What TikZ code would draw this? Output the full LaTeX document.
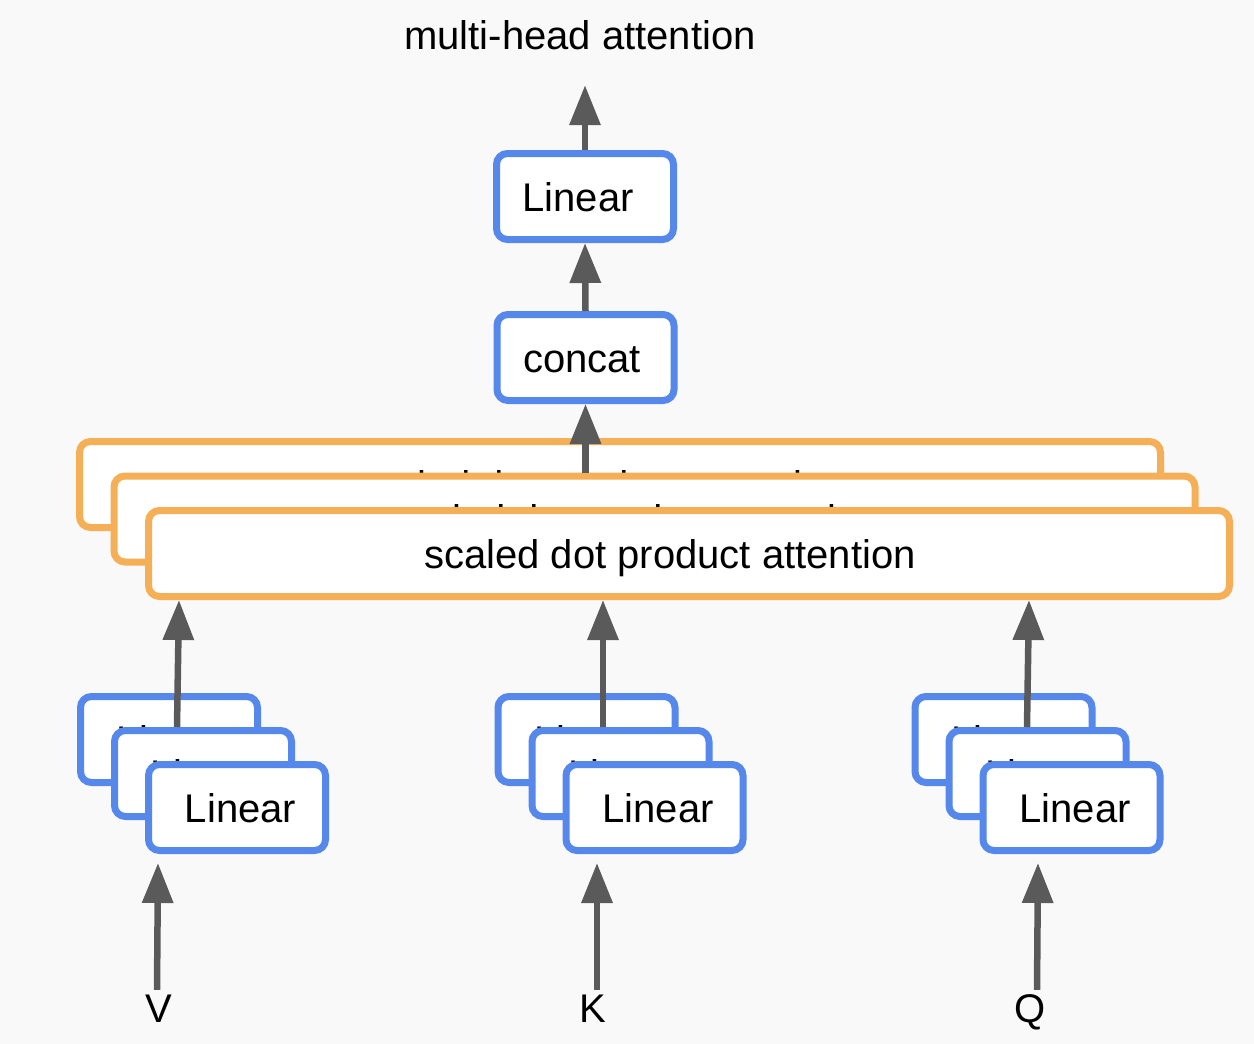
\documentclass[tikz,border=0pt]{standalone}
\usepackage{fontspec}
\setmainfont{Liberation Sans}
\usetikzlibrary{arrows.meta}
\definecolor{bgc}{HTML}{F9F9F9}
\definecolor{blu}{HTML}{5687EA}
\definecolor{org}{HTML}{F4AF57}
\definecolor{arrc}{HTML}{5A5A5A}
\begin{document}
\begin{tikzpicture}[x=1pt,y=-1pt,
  box/.style={draw, rounded corners=11pt, fill=white, line width=7pt,
    minimum height=86pt, inner sep=0pt, text height=29pt, text depth=0pt,
    font=\fontsize{40}{48}\selectfont},
  bluebox/.style={box, draw=blu, minimum width=177pt},
  orangebox/.style={box, draw=org, minimum width=1081pt},
  lbl/.style={inner sep=0pt, text height=29pt, text depth=0pt,
    font=\fontsize{40}{48}\selectfont},
  arr/.style={draw=arrc, line width=6.5pt, -{Triangle[length=40pt,width=30pt]}}
]
\fill[bgc] (0,0) rectangle (1254,1044);
\useasboundingbox (0,0) rectangle (1254,1044);

% labels
\node[lbl] (title) at (580,35) {multi-head attention};
\node[lbl] (V) at (159,1007.5) {V};
\node[lbl] (K) at (593,1007.5) {K};
\node[lbl] (Q) at (1030,1007.5) {Q};

% top boxes
\node[bluebox] (lin) at (585,196.5) {\hspace*{-14pt}Linear};
\node[bluebox] (concat) at (585.5,357.5) {\hspace*{-7pt}concat};

% attention stack
\node[orangebox] (O1) at (620,484.5) {\hspace*{-38pt}scaled dot product attention};
\node[orangebox] (O2) at (654.5,519) {\hspace*{-38pt}scaled dot product attention};
\node[orangebox] (O3) at (689,553.5) {\hspace*{-38pt}scaled dot product attention};

% linear stacks
\node[bluebox] (V1) at (169,739.5) {\hspace*{7pt}Linear};
\node[bluebox] (V2) at (203,773.5) {\hspace*{7pt}Linear};
\node[bluebox] (V3) at (237,807.5) {\hspace*{7pt}Linear};
\node[bluebox] (K1) at (586.5,739.5) {\hspace*{7pt}Linear};
\node[bluebox] (K2) at (620.5,773.5) {\hspace*{7pt}Linear};
\node[bluebox] (K3) at (654.5,807.5) {\hspace*{7pt}Linear};
\node[bluebox] (Q1) at (1003.5,739.5) {\hspace*{7pt}Linear};
\node[bluebox] (Q2) at (1037.5,773.5) {\hspace*{7pt}Linear};
\node[bluebox] (Q3) at (1071.5,807.5) {\hspace*{7pt}Linear};

% arrows: inputs to linear layers
\draw[arr] ([xshift=-2pt,yshift=3pt]V.north) -- ([xshift=-1pt,yshift=-9pt]V.north |- V3.south);
\draw[arr] ([xshift=4pt,yshift=3pt]K.north) -- ([xshift=4pt,yshift=-9pt]K.north |- K3.south);
\draw[arr] ([xshift=7pt,yshift=3pt]Q.north) -- ([xshift=8pt,yshift=-9pt]Q.north |- Q3.south);

% arrows: linear layers to attention
\draw[arr] ([xshift=-26pt]V2.north) -- ([xshift=-24pt]V2.north |- O3.south);
\draw[arr] ([xshift=-17.5pt]K2.north) -- ([xshift=-17.5pt]K2.north |- O3.south);
\draw[arr] ([xshift=-10.5pt]Q2.north) -- ([xshift=-8.5pt]Q2.north |- O3.south);

% arrows: attention -> concat -> linear -> output
\draw[arr] (concat.south |- O2.north) -- (concat.south);
\draw[arr] (concat.north) -- (lin.south);
\draw[arr] (lin.north) -- ([yshift=-35.5pt]lin.north |- title.south);
\end{tikzpicture}
\end{document}
